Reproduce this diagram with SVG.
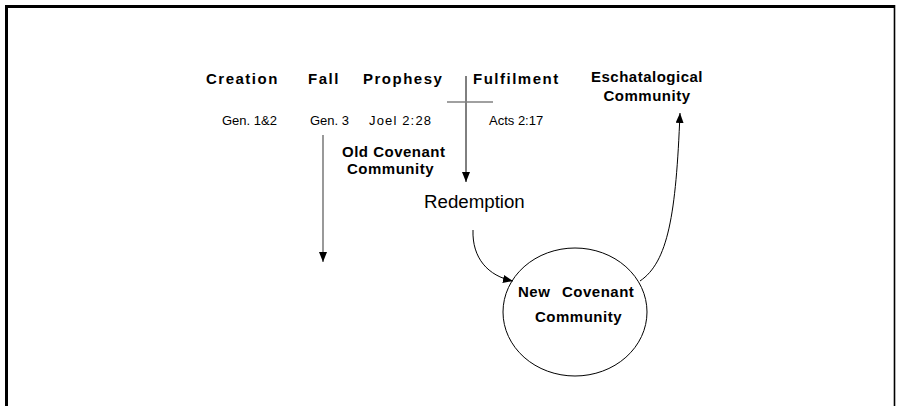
<svg xmlns="http://www.w3.org/2000/svg" width="898" height="406" viewBox="0 0 898 406">
<style>
  text { font-family: "Liberation Sans", Arial, sans-serif; fill: #000; }
  .h { font-size: 15px; font-weight: bold; letter-spacing: 1.5px; }
  .b { font-size: 15px; font-weight: bold; letter-spacing: 0.5px; }
  .r { font-size: 13px; }
  .big { font-size: 18.7px; }
  .ln { fill: none; stroke: #000; stroke-width: 1; }
  .grey { fill: none; stroke: #808080; stroke-width: 1.6; }
</style>
<defs>
  <marker id="ah" viewBox="0 0 10 8" refX="10" refY="4" markerWidth="10" markerHeight="8" markerUnits="userSpaceOnUse" orient="auto">
    <path d="M0,0 L10,4 L0,8 Z" fill="#000"/>
  </marker>
</defs>
<rect x="0" y="0" width="898" height="406" fill="#fff"/>
<g id="frame">
  <path d="M6.5,406 V6.5 H895" fill="none" stroke="#000" stroke-width="3"/>
  <line x1="894.5" y1="5" x2="894.5" y2="406" stroke="#000" stroke-width="1.6"/>
</g>
<g id="timeline">
  <text class="h" x="206" y="84">Creation</text>
  <text class="h" x="308" y="84">Fall</text>
  <text class="h" x="363" y="84">Prophesy</text>
  <text class="h" x="473" y="84">Fulfilment</text>
  <text class="r" x="222" y="125">Gen. 1&amp;2</text>
  <text class="r" x="310" y="125">Gen. 3</text>
  <text class="r" x="369" y="125" textLength="62">Joel 2:28</text>
  <text class="r" x="489" y="125">Acts 2:17</text>
</g>
<g id="eschatological">
  <text class="b" x="647" y="82" text-anchor="middle">Eschatalogical</text>
  <text class="b" x="647" y="101" text-anchor="middle">Community</text>
</g>
<g id="old-covenant">
  <text class="b" x="342" y="157" letter-spacing="1.2">Old Covenant</text>
  <text class="b" x="347" y="174" letter-spacing="0.8">Community</text>
</g>
<g id="redemption">
  <text class="big" x="424" y="208">Redemption</text>
</g>
<g id="new-covenant">
  <ellipse cx="575" cy="312" rx="72" ry="64" fill="none" stroke="#000" stroke-width="1"/>
  <text class="b" x="518" y="297">New</text>
  <text class="b" x="562" y="297">Covenant</text>
  <text class="b" x="535" y="322">Community</text>
</g>
<g id="connectors">
  <line class="grey" x1="323" y1="135" x2="323" y2="262" marker-end="url(#ah)"/>
  <line class="ln" x1="466" y1="76" x2="466" y2="182" marker-end="url(#ah)"/>
  <line class="grey" x1="447" y1="102" x2="493" y2="102"/>
  <path class="ln" d="M473,230 C472,258 488,276 513,281" marker-end="url(#ah)"/>
  <path class="ln" d="M640,281 C668,262 676,215 680,113" marker-end="url(#ah)"/>
</g>
</svg>
